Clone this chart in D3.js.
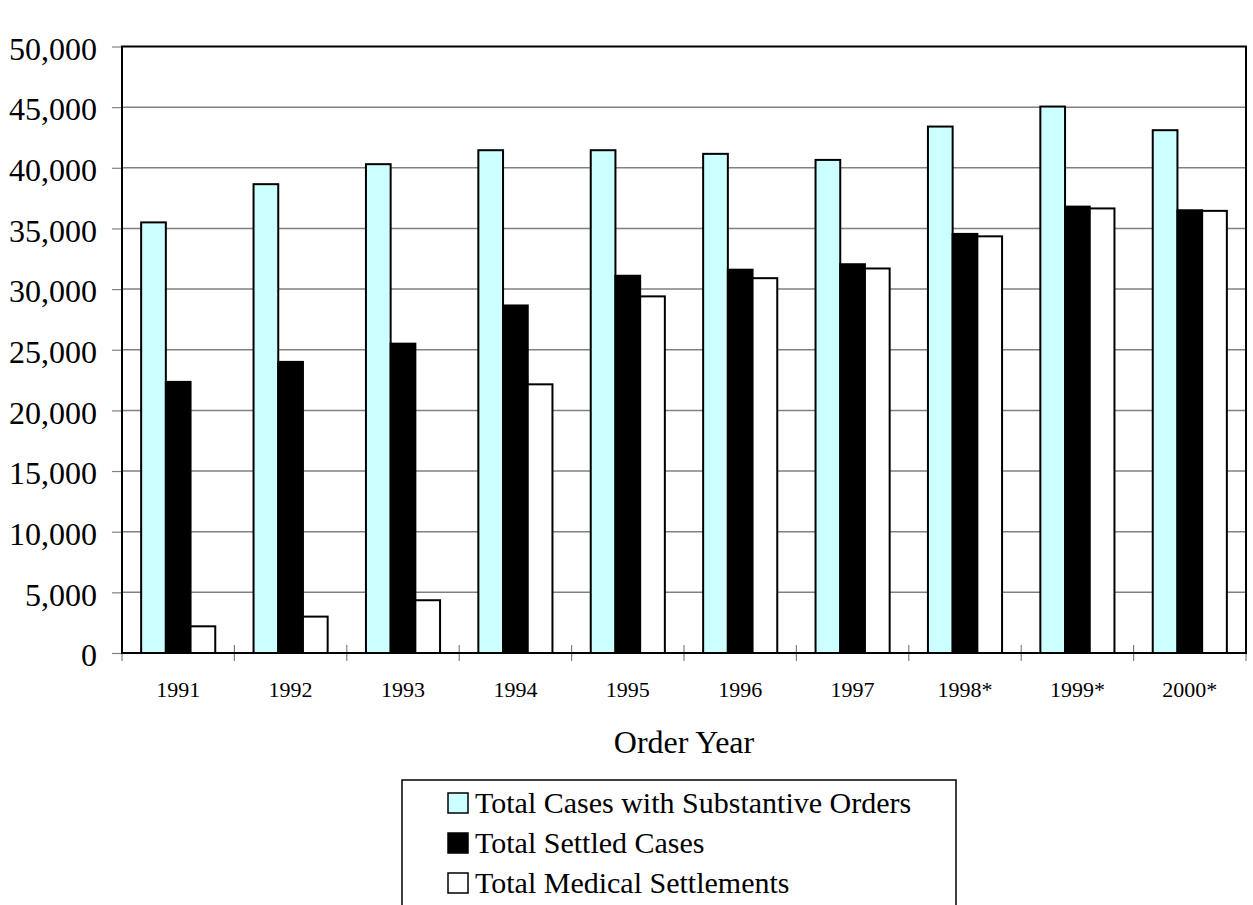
<!DOCTYPE html>
<html>
<head>
<meta charset="utf-8">
<script src="https://cdn.jsdelivr.net/npm/d3@7"></script>
<style>
  body { margin: 0; background: #fff; }
  svg { display: block; }
</style>
</head>
<body>
<div class="displayArea"></div>
<script>
var width = 1253,
    height = 905;
var serif = "'Liberation Serif', 'Times New Roman', Times, serif";

var years = ["1991", "1992", "1993", "1994", "1995", "1996", "1997", "1998*", "1999*", "2000*"];
var seriesNames = ["Total Cases with Substantive Orders", "Total Settled Cases", "Total Medical Settlements"];
var substantive = [35500, 38650, 40300, 41450, 41450, 41150, 40650, 43400, 45050, 43100];
var settled = [22350, 24000, 25500, 28650, 31100, 31600, 32050, 34550, 36800, 36500];
var medical = [2200, 3000, 4350, 22150, 29400, 30900, 31700, 34350, 36650, 36450];
var yTicks = [0, 5000, 10000, 15000, 20000, 25000, 30000, 35000, 40000, 45000, 50000];
var colors = ["#ccffff", "#000000", "#ffffff"];

var plot = { left: 122, right: 1246, top: 46.5, bottom: 653 };

// rows for grouped bars
var rows = years.map(function (y, i) {
    return { year: y, values: [substantive[i], settled[i], medical[i]] };
});

var x0 = d3.scaleBand()
    .domain(years)
    .range([plot.left, plot.right])
    .padding(0);

var x1 = d3.scaleBand()
    .domain([0, 1, 2])
    .range([0, x0.bandwidth()])
    .paddingInner(0)
    .paddingOuter(0.775);

var yScale = d3.scaleLinear()
    .domain([0, 50000])
    .range([plot.bottom, plot.top]);

var svg = d3.select(".displayArea")
    .append("svg")
    .attr("width", width)
    .attr("height", height)
    .attr("font-family", serif);

// gridlines
svg.append("g")
    .selectAll("line")
    .data(yTicks.slice(1, -1))
    .enter()
    .append("line")
    .attr("x1", plot.left)
    .attr("x2", plot.right)
    .attr("y1", function (d) { return yScale(d); })
    .attr("y2", function (d) { return yScale(d); })
    .attr("stroke", "#808080")
    .attr("stroke-width", 1.5);

// y axis with left ticks
var yAxis = d3.axisLeft(yScale)
    .tickValues(yTicks)
    .tickSize(10)
    .tickPadding(15)
    .tickFormat(d3.format(","));

var yg = svg.append("g")
    .attr("transform", "translate(" + plot.left + ",0)")
    .call(yAxis)
    .attr("font-family", serif);
yg.select(".domain").remove();
yg.selectAll(".tick line").attr("stroke", "#808080").attr("stroke-width", 1.2);
yg.selectAll(".tick text")
    .attr("font-size", 32)
    .attr("font-family", serif)
    .attr("fill", "#000")
    .attr("dy", "0.4em");

// x axis ticks at category boundaries
var boundaries = years.map(function (y) { return x0(y); }).concat([plot.right]);
svg.append("g")
    .selectAll("line")
    .data(boundaries)
    .enter()
    .append("line")
    .attr("x1", function (d) { return d; })
    .attr("x2", function (d) { return d; })
    .attr("y1", plot.bottom - 8)
    .attr("y2", plot.bottom + 8)
    .attr("stroke", "#808080")
    .attr("stroke-width", 1.2);

svg.append("g")
    .selectAll("text")
    .data(years)
    .enter()
    .append("text")
    .attr("x", function (d) { return x0(d) + x0.bandwidth() / 2; })
    .attr("y", 697)
    .attr("text-anchor", "middle")
    .attr("font-family", serif)
    .attr("font-size", 22)
    .text(function (d) { return d; });

// bars
var groups = svg.append("g")
    .selectAll("g")
    .data(rows)
    .enter()
    .append("g")
    .attr("transform", function (d) { return "translate(" + x0(d.year) + ",0)"; });

groups.selectAll("rect")
    .data(function (d) { return d.values; })
    .enter()
    .append("rect")
    .attr("x", function (d, i) { return x1(i); })
    .attr("y", function (d) { return yScale(d); })
    .attr("width", x1.bandwidth())
    .attr("height", function (d) { return plot.bottom - yScale(d); })
    .attr("fill", function (d, i) { return colors[i]; })
    .attr("stroke", "#000")
    .attr("stroke-width", 2);

// plot frame
svg.append("rect")
    .attr("x", plot.left)
    .attr("y", plot.top)
    .attr("width", plot.right - plot.left)
    .attr("height", plot.bottom - plot.top)
    .attr("fill", "none")
    .attr("stroke", "#000")
    .attr("stroke-width", 2);

svg.append("text")
    .attr("x", (plot.left + plot.right) / 2)
    .attr("y", 753)
    .attr("text-anchor", "middle")
    .attr("font-family", serif)
    .attr("font-size", 32)
    .text("Order Year");

// legend
var legend = svg.append("g");
legend.append("rect")
    .attr("x", 402)
    .attr("y", 780)
    .attr("width", 554)
    .attr("height", 140)
    .attr("fill", "#fff")
    .attr("stroke", "#000")
    .attr("stroke-width", 1.5);

var items = legend.selectAll("g.item")
    .data(seriesNames)
    .enter()
    .append("g")
    .attr("class", "item")
    .attr("transform", function (d, i) { return "translate(448," + (793 + i * 40) + ")"; });

items.append("rect")
    .attr("width", 20)
    .attr("height", 20)
    .attr("fill", function (d, i) { return colors[i]; })
    .attr("stroke", "#000")
    .attr("stroke-width", 1.5);

items.append("text")
    .attr("x", 27)
    .attr("y", 20)
    .attr("font-family", serif)
    .attr("font-size", 30)
    .text(function (d) { return d; });
</script>
</body>
</html>
